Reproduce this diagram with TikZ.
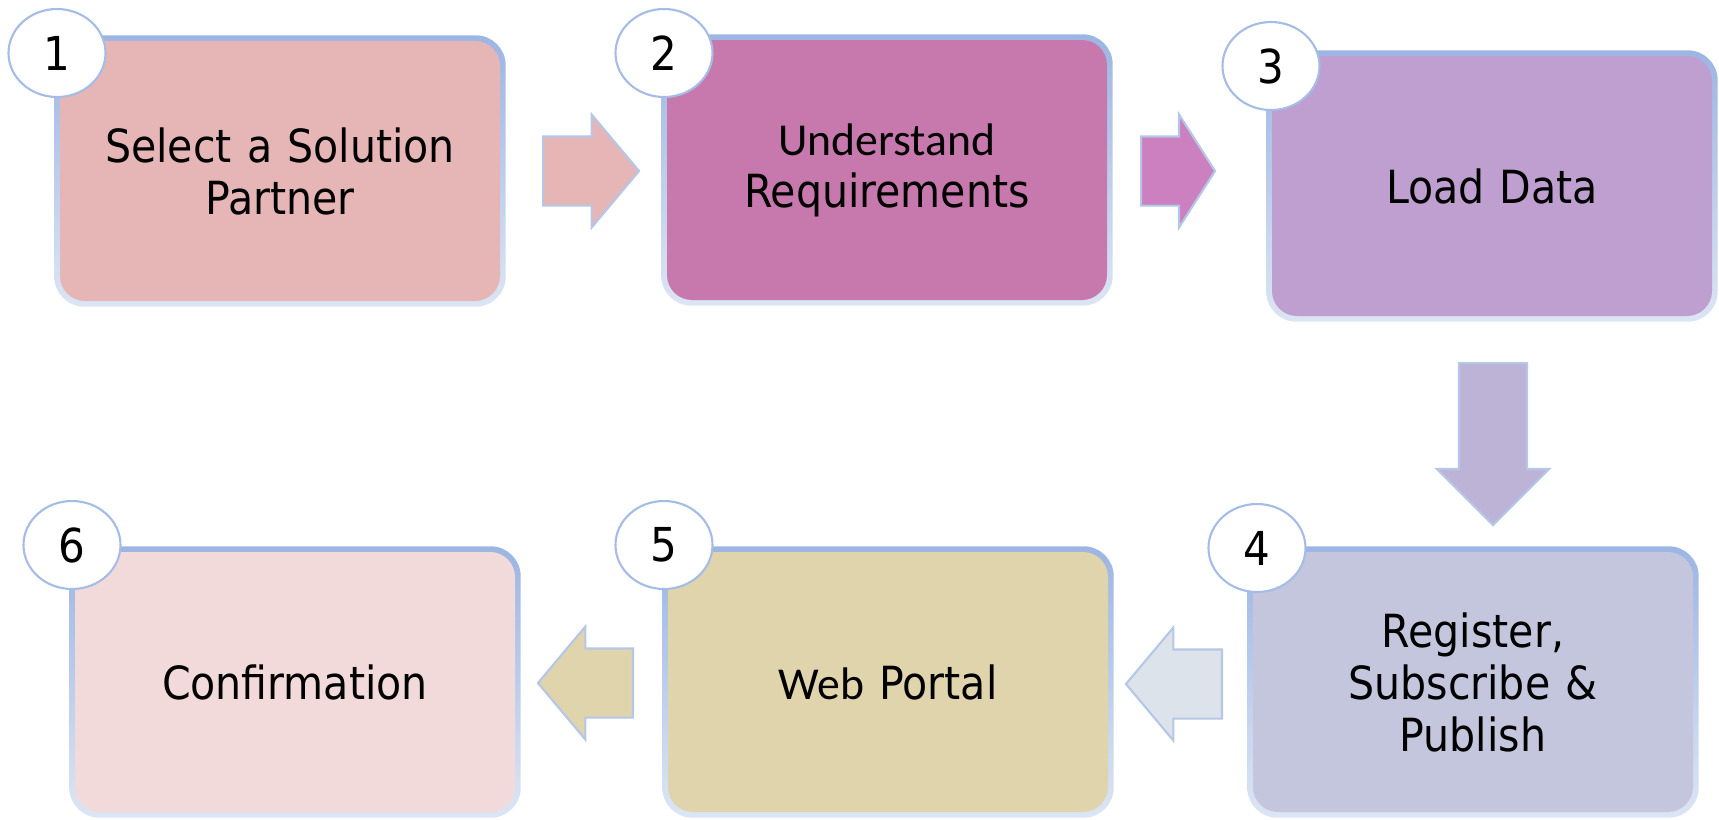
\documentclass[tikz,border=0pt]{standalone}
\usepackage{fontspec}
\setmainfont{DejaVu Sans Condensed}
\newfontfamily\thinfont{Carlito}
\usepackage{tikz}
\usetikzlibrary{shapes.geometric, shapes.arrows, fit, backgrounds}
\definecolor{pinkfill}{HTML}{E6B6B7}
\definecolor{magfill}{HTML}{C779AE}
\definecolor{magarrow}{HTML}{CC80BF}
\definecolor{lilacfill}{HTML}{BE9FD0}
\definecolor{lilacarrow}{HTML}{BCB3D7}
\definecolor{bluefill}{HTML}{C4C6DE}
\definecolor{greyarrow}{HTML}{DDE3EA}
\definecolor{tanfill}{HTML}{E0D4AD}
\definecolor{rosefill}{HTML}{F2DADB}
\definecolor{edgetop}{HTML}{9CB5E2}
\definecolor{edgebot}{HTML}{DCE5F4}
\definecolor{arrowline}{HTML}{B4C7E7}
\definecolor{badgeline}{HTML}{A5BDE6}
\tikzstyle{stepbox} = [rectangle, rounded corners = 0.25cm, minimum width = 4.4cm, minimum height = 2.6cm, text width = 4.2cm, align = center, inner sep = 0pt, font = \fontsize{13}{14.8}\selectfont]
\tikzstyle{frame} = [rectangle, rounded corners = 0.3cm, inner sep = 0.05cm, top color = edgetop, bottom color = edgebot]
\tikzstyle{badge} = [ellipse, draw = badgeline, fill = white, line width = 0.6pt, minimum width = 0.97cm, minimum height = 0.88cm, inner sep = 0pt, font = \fontsize{13.3}{14}\selectfont]
\tikzstyle{flow} = [single arrow, draw = arrowline, line width = 0.6pt, single arrow head indent = 0pt, single arrow head extend = 0.22cm, inner xsep = 0pt, inner ysep = 0.335cm, anchor = tail]
\begin{document}
\begin{tikzpicture}
			\useasboundingbox (0, 0) rectangle (17.19, -8.19);
			% Place nodes
			\node [stepbox, fill = pinkfill] (select) at (2.80, -1.71) {Select a Solution\\Partner};
			\node [stepbox, fill = magfill] (understand) at (8.87, -1.70) {{\thinfont Understand}\\Requirements};
			\node [stepbox, fill = lilacfill] (load) at (14.92, -1.86) {Load Data};
			\node [stepbox, fill = bluefill] (register) at (14.73, -6.82) {Register,\\Subscribe \&\\Publish};
			\node [stepbox, fill = tanfill] (portal) at (8.88, -6.82) {{\thinfont Web} Portal};
			\node [stepbox, fill = rosefill] (confirm) at (2.95, -6.82) {Confirmation};
			
			% Frames behind the boxes
			\begin{scope}[on background layer]
				\foreach \b in {select, understand, load, register, portal, confirm}
					\node [frame, fit = (\b)] {};
			\end{scope}
			
			% Step numbers
			\node [badge] (n1) at (0.57, -0.53) {1};
			\node [badge] (n2) at (6.64, -0.53) {2};
			\node [badge] (n3) at (12.71, -0.66) {3};
			\node [badge] (n4) at (12.57, -5.48) {4};
			\node [badge] (n5) at (6.64, -5.45) {5};
			\node [badge] (n6) at (0.72, -5.45) {6};
			
			% Block arrows
			\node [flow, fill = pinkfill, minimum height = 0.96cm, single arrow tip angle = 100] (a12) at (5.42, -1.71) {};
			\node [flow, fill = magarrow, minimum height = 0.74cm, single arrow tip angle = 115] (a23) at (11.40, -1.71) {};
			\node [flow, fill = lilacarrow, minimum height = 1.62cm, single arrow tip angle = 90, inner ysep = 0.33cm, rotate = -90] (a34) at (14.93, -3.62) {};
			\node [flow, fill = greyarrow, minimum height = 0.96cm, single arrow tip angle = 100, rotate = 180] (a45) at (12.23, -6.84) {};
			\node [flow, fill = tanfill, minimum height = 0.95cm, single arrow tip angle = 100, rotate = 180] (a56) at (6.34, -6.83) {};
		\end{tikzpicture}
\end{document}
